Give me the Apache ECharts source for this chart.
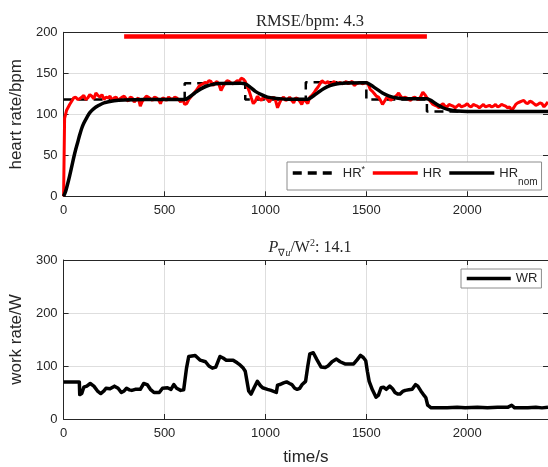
<!DOCTYPE html>
<html>
<head>
<meta charset="utf-8">
<script src="https://cdn.jsdelivr.net/npm/echarts@6/dist/echarts.min.js"></script>
<style>html,body{margin:0;padding:0;background:#fff}#c{width:548px;height:467px}</style>
</head>
<body>
<div id="c"></div>
<script>
// ---- data ----
const xTicks = [0, 500, 1000, 1500, 2000];
const hrTicks = [0, 50, 100, 150, 200];
const wrTicks = [0, 100, 200, 300];

const hrRefTime = [0, 600, 600, 900, 900, 1200, 1200, 1500, 1500, 1800, 1800, 2400];
const hrRefVal  = [118, 118, 138, 138, 118, 118, 139, 139, 118, 118, 103.5, 103.5];

const hrTime = [0, 5, 15, 30, 40, 50, 60, 70, 80, 90, 100, 110, 120, 130, 140, 150, 160, 170, 180, 190, 200, 210, 220, 230, 240, 250, 260, 270, 280, 290,
  300, 310, 320, 330, 340, 350, 360, 370, 380, 390, 400, 410, 420, 430, 440, 450, 460, 470, 480, 490, 500, 510, 520, 530, 540, 550, 560, 570, 580, 590,
  600, 610, 620, 630, 640, 650, 660, 670, 680, 690, 700, 710, 720, 730, 740, 750, 760, 770, 780, 790, 800, 810, 820, 830, 840, 850, 860, 870, 880, 890,
  900, 910, 920, 930, 940, 950, 960, 970, 980, 990, 1000, 1010, 1020, 1030, 1040, 1050, 1060, 1070, 1080, 1090, 1100, 1110, 1120, 1130, 1140, 1150, 1160, 1170, 1180, 1190,
  1200, 1210, 1220, 1230, 1240, 1250, 1260, 1270, 1280, 1290, 1300, 1310, 1320, 1330, 1340, 1350, 1360, 1370, 1380, 1390, 1400, 1410, 1420, 1430, 1440, 1450, 1460, 1470, 1480, 1490,
  1500, 1510, 1520, 1530, 1540, 1550, 1560, 1570, 1580, 1590, 1600, 1610, 1620, 1630, 1640, 1650, 1660, 1670, 1680, 1690, 1700, 1710, 1720, 1730, 1740, 1750, 1760, 1770, 1780, 1790,
  1800, 1810, 1820, 1830, 1840, 1850, 1860, 1870, 1880, 1890, 1900, 1910, 1920, 1930, 1940, 1950, 1960, 1970, 1980, 1990, 2000, 2010, 2020, 2030, 2040, 2050, 2060, 2070, 2080, 2090,
  2100, 2110, 2120, 2130, 2140, 2150, 2160, 2170, 2180, 2190, 2200, 2210, 2220, 2230, 2240, 2250, 2260, 2270, 2280, 2290, 2300, 2310, 2320, 2330, 2340, 2350, 2360, 2370, 2380, 2390, 2400];
const hrVal = [0, 95, 105, 112, 116, 120, 121, 118, 119, 121, 123, 118, 120, 124, 122, 119, 126, 123, 121, 124, 118, 121, 120, 122, 117, 120, 121, 117, 119, 121,
  122, 119, 116, 121, 120, 115, 118, 120, 110, 116, 119, 122, 121, 119, 117, 121, 120, 118, 113, 120, 119, 117, 121, 119, 118, 121, 120, 118, 115, 119,
  112, 113, 118, 121, 124, 127, 130, 134, 136, 137, 139, 138, 141, 140, 135, 138, 140, 136, 129, 134, 138, 141, 140, 138, 137, 139, 141, 140, 144, 143,
  140, 134, 128, 120, 113, 116, 122, 119, 117, 121, 120, 118, 115, 119, 121, 117, 108, 114, 119, 121, 117, 118, 121, 117, 114, 120, 119, 116, 112, 118,
  116, 113, 121, 123, 126, 130, 133, 137, 141, 139, 138, 140, 136, 138, 140, 137, 138, 139, 137, 138, 140, 137, 139, 140, 135, 137, 138, 139, 137, 138,
  139, 136, 130, 128, 125, 122, 121, 117, 112, 116, 120, 121, 117, 119, 121, 123, 126, 122, 119, 121, 120, 118, 117, 120, 121, 119, 118, 122, 127, 124,
  120, 118, 115, 112, 111, 110, 108, 111, 113, 110, 109, 112, 111, 110, 108, 110, 112, 109, 110, 111, 113, 110, 109, 112, 111, 110, 108, 110, 112, 109,
  110, 111, 109, 110, 112, 109, 110, 112, 111, 110, 108, 109, 105, 108, 112, 114, 115, 116, 117, 114, 113, 116, 115, 113, 111, 112, 114, 113, 109, 112, 115];

const hrNomTime = [0, 10, 20, 30, 40, 50, 60, 70, 80, 90, 100, 115, 130, 150, 175, 200, 250, 300, 400, 600, 620, 650, 680, 710, 740, 770, 880, 900, 920, 950, 980, 1010, 1050, 1100, 1210,
  1230, 1260, 1290, 1320, 1350, 1380, 1500, 1520, 1550, 1580, 1610, 1650, 1700, 1800, 1820, 1850, 1880, 1910, 1950, 2000, 2400];
const hrNomVal = [0, 6, 15, 25, 36, 47, 57, 66, 75, 83, 89, 96, 102, 107, 111, 114, 116.5, 117.5, 118, 118, 120.5, 126, 131, 134.5, 136.5, 137.5, 138, 137, 134, 128, 124, 121, 119.5, 118.5, 118.5,
  121, 126.5, 131.5, 135, 137, 138, 138.5, 136, 131, 126, 122.5, 120, 119, 119, 117, 112, 108, 105.5, 104, 103.5, 103.5];

const windowTime = [300, 1800];
const windowVal = [195, 195];

const wrTime = [0, 78, 80, 90, 100, 115, 132, 150, 170, 184, 200, 210, 230, 252, 270, 286, 300, 312, 325, 338, 355, 380, 397, 414, 430, 448, 474, 490, 515, 532, 546, 560, 580, 595,
  609, 620, 626, 652, 677, 703, 720, 737, 754, 775, 790, 806, 840, 860, 874, 890, 900, 917, 929, 945, 960, 975, 986, 1010, 1028, 1054, 1060, 1071, 1090, 1105, 1120, 1131, 1145, 1157, 1170, 1182, 1199,
  1210, 1220, 1237, 1255, 1276, 1295, 1310, 1330, 1352, 1370, 1394, 1415, 1437, 1455, 1471, 1485, 1497, 1505, 1514, 1530, 1548, 1560, 1573, 1585, 1599, 1616, 1630, 1642, 1655, 1667, 1680, 1693, 1710, 1727, 1744, 1755, 1770, 1787, 1795,
  1804, 1821, 1850, 1900, 1950, 1990, 2050, 2100, 2150, 2200, 2220, 2235, 2300, 2340, 2370, 2400];
const wrVal = [70, 70, 46, 48, 60, 62, 67, 62, 52, 48, 53, 58, 57, 62, 58, 50, 53, 58, 55, 54, 56, 56, 67, 65, 56, 50, 50, 58, 59, 56, 65, 58, 54, 55,
  96, 118, 120, 120, 111, 108, 100, 96, 98, 118, 115, 111, 111, 106, 102, 96, 90, 53, 47, 60, 71, 63, 59, 56, 54, 50, 64, 65, 68, 70, 67, 65, 58, 56, 58, 65, 71,
  100, 123, 125, 112, 98, 97, 100, 108, 113, 108, 104, 104, 104, 112, 120, 116, 110, 90, 71, 55, 41, 45, 59, 60, 56, 62, 57, 50, 47, 47, 52, 54, 55, 56, 65, 62, 53, 44, 40,
  26, 21, 21, 21, 22, 21, 22, 21, 22, 22, 26, 21, 21, 22, 21, 22];

// ---- chart ----
const zip = (a, b) => a.map((t, i) => [t, b[i]]);
const TXT = '#262626';
const SANS = 'Liberation Sans, Arial, sans-serif';
const SERIF = 'Liberation Serif, Times New Roman, serif';
const GRID_COLOR = '#dedede';

const chart = echarts.init(document.getElementById('c'), null, {renderer: 'canvas'});

function axesFor(gridIndex, yMin, yMax, yInterval, yName) {
  const common = {gridIndex, type: 'value'};
  const xs = [
    Object.assign({}, common, {
      min: xTicks[0], max: 2400, interval: xTicks[1] - xTicks[0], position: 'bottom',
      axisLine: {show: true, onZero: false, lineStyle: {color: TXT, width: 1}},
      axisTick: {show: true, inside: true, length: 5, lineStyle: {color: TXT}},
      axisLabel: {color: TXT, fontFamily: SANS, fontSize: 13, margin: 8, showMaxLabel: false,
                  formatter: v => String(v)},
      splitLine: {show: true, lineStyle: {color: GRID_COLOR, width: 1}},
      name: gridIndex === 1 ? 'time/s' : '', nameLocation: 'middle', nameGap: 30,
      nameTextStyle: {color: TXT, fontFamily: SANS, fontSize: 17}
    }),
    Object.assign({}, common, {
      min: xTicks[0], max: 2400, interval: xTicks[1] - xTicks[0], position: 'top',
      axisLine: {show: true, onZero: false, lineStyle: {color: TXT, width: 1}},
      axisTick: {show: true, inside: true, length: 5, lineStyle: {color: TXT}},
      axisLabel: {show: false}, splitLine: {show: false}
    })
  ];
  const ys = [
    Object.assign({}, common, {
      min: yMin, max: yMax, interval: yInterval, position: 'left',
      axisLine: {show: true, onZero: false, lineStyle: {color: TXT, width: 1}},
      axisTick: {show: true, inside: true, length: 5, lineStyle: {color: TXT}},
      axisLabel: {color: TXT, fontFamily: SANS, fontSize: 13, margin: 6, formatter: v => String(v)},
      splitLine: {show: true, lineStyle: {color: GRID_COLOR, width: 1}},
      name: yName, nameLocation: 'middle', nameGap: 29,
      nameTextStyle: {color: TXT, fontFamily: SANS, fontSize: 17}
    }),
    Object.assign({}, common, {
      min: yMin, max: yMax, interval: yInterval, position: 'right',
      axisLine: {show: true, onZero: false, lineStyle: {color: TXT, width: 1}},
      axisTick: {show: true, inside: true, length: 5, lineStyle: {color: TXT}},
      axisLabel: {show: false}, splitLine: {show: false}
    })
  ];
  return {xs, ys};
}

const a0 = axesFor(0, hrTicks[0], hrTicks[hrTicks.length - 1], hrTicks[1] - hrTicks[0], 'heart rate/bpm');
const a1 = axesFor(1, wrTicks[0], wrTicks[wrTicks.length - 1], wrTicks[1] - wrTicks[0], 'work rate/W');

const legendRich = {
  n: {fontFamily: SANS, fontSize: 13, color: TXT, lineHeight: 16},
  sup: {fontFamily: SANS, fontSize: 9, color: TXT, verticalAlign: 'top', lineHeight: 8},
  sub: {fontFamily: SANS, fontSize: 10, color: TXT, verticalAlign: 'bottom', lineHeight: 6, padding: [0, 0, -6, 0]}
};
const noSymbol = {color: 'rgba(0,0,0,0)', borderColor: 'rgba(0,0,0,0)', borderWidth: 0, opacity: 0};

const option = {
  animation: false,
  backgroundColor: '#ffffff',
  title: [
    {text: 'RMSE/bpm: 4.3', left: 305, top: 8, textAlign: 'center',
     textStyle: {fontFamily: SERIF, fontSize: 16.5, fontWeight: 'normal', color: TXT}},
    {text: '{i|P}{s|∇}{si|u}{n|/W}{p|2}{n|: 14.1}', left: 305, top: 233, textAlign: 'center',
     textStyle: {fontFamily: SERIF, fontSize: 16, fontWeight: 'normal', color: TXT,
       rich: {
         n: {fontFamily: SERIF, fontSize: 16, color: TXT, lineHeight: 20},
         i: {fontFamily: SERIF, fontSize: 16, fontStyle: 'italic', color: TXT, lineHeight: 20},
         s: {fontFamily: SERIF, fontSize: 10, color: TXT, verticalAlign: 'bottom', lineHeight: 8},
         si: {fontFamily: SERIF, fontSize: 10, fontStyle: 'italic', color: TXT, verticalAlign: 'bottom', lineHeight: 8},
         p: {fontFamily: SERIF, fontSize: 10, color: TXT, verticalAlign: 'top', lineHeight: 10}
       }}}
  ],
  grid: [
    {left: 58.3, top: 32.3, width: 493, height: 164, containLabel: false},
    {left: 58.3, top: 260, width: 493, height: 162, containLabel: false}
  ],
  xAxis: [a0.xs[0], a0.xs[1], a1.xs[0], a1.xs[1]],
  yAxis: [a0.ys[0], a0.ys[1], a1.ys[0], a1.ys[1]],
  legend: [
    {data: ['HR*', 'HR', 'HRnom'], left: 287, top: 162, orient: 'horizontal',
     itemWidth: 45, itemHeight: 12, itemGap: 6, padding: [3, 4, 3, 4],
     borderColor: '#8c8c8c', borderWidth: 1, backgroundColor: '#ffffff',
     selectedMode: false, itemStyle: noSymbol, lineStyle: {width: 3.5},
     formatter: function (name) {
       if (name === 'HR*') return '{n|HR}{sup|*}';
       if (name === 'HRnom') return '{n|HR}{sub|nom}';
       return '{n|' + name + '}';
     },
     textStyle: {fontFamily: SANS, fontSize: 13, color: TXT, rich: legendRich}},
    {data: ['WR'], left: 461, top: 269, orient: 'horizontal',
     itemWidth: 44, itemHeight: 12, padding: [3, 4, 3, 4],
     borderColor: '#8c8c8c', borderWidth: 1, backgroundColor: '#ffffff',
     selectedMode: false, itemStyle: noSymbol, lineStyle: {width: 3.5},
     textStyle: {fontFamily: SANS, fontSize: 13, color: TXT}}
  ],
  series: [
    {name: 'HR*', type: 'line', xAxisIndex: 0, yAxisIndex: 0, data: zip(hrRefTime, hrRefVal),
     showSymbol: false, symbol: 'none', lineStyle: {color: '#000000', width: 2.5, type: [9, 6]}, itemStyle: {color: '#000000'}},
    {name: 'HR', type: 'line', xAxisIndex: 0, yAxisIndex: 0, data: zip(hrTime, hrVal),
     showSymbol: false, symbol: 'none', lineStyle: {color: '#ff0000', width: 3}, itemStyle: {color: '#ff0000'}},
    {name: 'window', type: 'line', xAxisIndex: 0, yAxisIndex: 0, data: zip(windowTime, windowVal),
     showSymbol: false, symbol: 'none', lineStyle: {color: '#ff0000', width: 4.5, cap: 'butt'}, itemStyle: {color: '#ff0000'}},
    {name: 'HRnom', type: 'line', xAxisIndex: 0, yAxisIndex: 0, data: zip(hrNomTime, hrNomVal), smooth: 0.3,
     showSymbol: false, symbol: 'none', lineStyle: {color: '#000000', width: 3.5}, itemStyle: {color: '#000000'}},
    {name: 'WR', type: 'line', xAxisIndex: 2, yAxisIndex: 2, data: zip(wrTime, wrVal),
     showSymbol: false, symbol: 'none', lineStyle: {color: '#000000', width: 3.5, join: 'round'}, itemStyle: {color: '#000000'}}
  ]
};
chart.setOption(option);
</script>
</body>
</html>
